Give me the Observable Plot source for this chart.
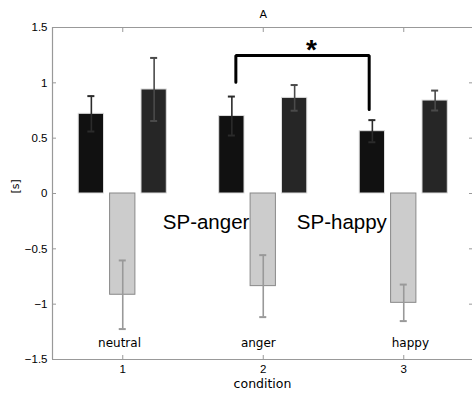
<!DOCTYPE html>
<html>
<head>
<meta charset="utf-8">
<script src="https://cdn.jsdelivr.net/npm/d3@7"></script>
<script src="https://cdn.jsdelivr.net/npm/@observablehq/plot@0.6"></script>
<style>
  html, body { margin: 0; padding: 0; background: #fff; }
  #chart svg { display: block; }
</style>
</head>
<body>
<div id="chart"></div>
<script>
const conditions = [1, 2, 3];
const groupLabels = ["neutral", "anger", "happy"];
const groupLabelX = [0.977, 1.965, 3.047];
const yTicks = [-1.5, -1, -0.5, 0, 0.5, 1, 1.5];

const blackMean = [0.72, 0.70, 0.563];
const blackErr  = [0.16, 0.176, 0.10];
const grayMean  = [-0.915, -0.837, -0.988];
const grayErr   = [0.31, 0.28, 0.165];
const darkMean  = [0.94, 0.864, 0.84];
const darkErr   = [0.285, 0.116, 0.09];

const annotations = [
  {x: 1.285, y: -0.257, text: "SP-anger"},
  {x: 2.239, y: -0.257, text: "SP-happy"}
];
const bracket = [
  {x: 1.805, y: 1.005},
  {x: 1.805, y: 1.247},
  {x: 2.754, y: 1.247},
  {x: 2.754, y: 0.759}
];
const star = {x: 2.343, y: 1.30, text: "*"};

const offset = 0.2234, half = 0.09, cap = 0.025;
const series = [
  {name: "black", mean: blackMean, err: blackErr, dx: -offset, fill: "#111111", stroke: "#dddddd", errColor: "#2b2b2b"},
  {name: "gray",  mean: grayMean,  err: grayErr,  dx: 0,       fill: "#cccccc", stroke: "#888888", errColor: "#999999"},
  {name: "dark",  mean: darkMean,  err: darkErr,  dx: offset,  fill: "#262626", stroke: "#dddddd", errColor: "#4a4a4a"}
];
const rows = series.flatMap(s => conditions.map((c, i) => ({
  s: s.name, cx: c + s.dx, v: s.mean[i], e: s.err[i], fill: s.fill, stroke: s.stroke, errColor: s.errColor
})));

const font = "DejaVu Sans, sans-serif";
const tickFont = "Liberation Sans Narrow, Liberation Sans, Arial, sans-serif";
const axisColor = "#999999";

const chart = Plot.plot({
  width: 472,
  height: 394,
  marginLeft: 52,
  marginRight: 0,
  marginTop: 27,
  marginBottom: 35,
  style: {fontFamily: font, fontSize: "12px", background: "#fff", color: "#000", overflow: "visible"},
  x: {domain: [0.5, 3.5], range: [52, 473.5]},
  y: {domain: [-1.5, 1.5]},
  marks: [
    // frame lines
    Plot.ruleY([1.5, -1.5], {x1: 0.5, x2: 3.5, stroke: axisColor, strokeWidth: 1.2}),
    Plot.ruleX([0.5, 3.5], {y1: -1.5, y2: 1.5, stroke: axisColor, strokeWidth: 1.2}),
    // bars
    Plot.rectY(rows, {x1: d => d.cx - half, x2: d => d.cx + half, y1: 0, y2: "v", fill: d => d.fill, stroke: d => d.stroke, strokeWidth: 1}),
    // error bars
    Plot.ruleX(rows, {x: "cx", y1: d => d.v - d.e, y2: d => d.v + d.e, stroke: d => d.errColor, strokeWidth: 1.6}),
    Plot.ruleY(rows, {y: d => d.v + d.e, x1: d => d.cx - cap, x2: d => d.cx + cap, stroke: d => d.errColor, strokeWidth: 2}),
    Plot.ruleY(rows, {y: d => d.v - d.e, x1: d => d.cx - cap, x2: d => d.cx + cap, stroke: d => d.errColor, strokeWidth: 2}),
    // axes: inward ticks
    Plot.axisY({anchor: "left", ticks: yTicks, tickSize: -4, text: null, stroke: axisColor, label: null}),
    Plot.axisY({anchor: "right", ticks: yTicks, tickSize: -4, text: null, stroke: axisColor, label: null}),
    Plot.axisX({anchor: "bottom", ticks: conditions, tickSize: -4, text: null, stroke: axisColor, label: null}),
    Plot.axisX({anchor: "top", ticks: conditions, tickSize: -4, text: null, stroke: axisColor, label: null}),
    // axis labels
    Plot.axisY({anchor: "left", ticks: yTicks, tickSize: 0, tickPadding: 5, tickFormat: d => d3.format("")(d).replace("-", "\u2212"), label: null, fontSize: 11.5, fontFamily: tickFont}),
    Plot.axisX({anchor: "bottom", ticks: conditions, tickSize: 0, tickPadding: 5, tickFormat: "d", label: null, fontSize: 11.5, fontFamily: tickFont}),
    Plot.text(["[s]"], {frameAnchor: "left", dx: -37, rotate: -90, fontSize: 11, fill: "#000"}),
    Plot.text(["condition"], {frameAnchor: "bottom", dy: 28, fontSize: 12.5, fill: "#000"}),
    Plot.text(["A"], {x: 2, y: 1.5, dy: -13, fontSize: 11, fill: "#000"}),
    // group labels
    Plot.text(conditions.map((c, i) => ({x: groupLabelX[i], label: groupLabels[i]})), {x: "x", y: -1.355, text: "label", fontSize: 12, fill: "#000"}),
    // annotations
    Plot.text(annotations, {x: "x", y: "y", text: "text", textAnchor: "start", fontSize: 20.5, fontFamily: "Liberation Sans, Arial, sans-serif", fill: "#000"}),
    Plot.line(bracket, {x: "x", y: "y", stroke: "#000", strokeWidth: 3, strokeLinejoin: "miter", curve: "linear"}),
    Plot.text([star], {x: "x", y: "y", text: "text", fontSize: 28, fontWeight: "bold", fontFamily: "Liberation Sans, Arial, sans-serif", fill: "#000"})
  ]
});
document.getElementById("chart").appendChild(chart);
</script>
</body>
</html>
